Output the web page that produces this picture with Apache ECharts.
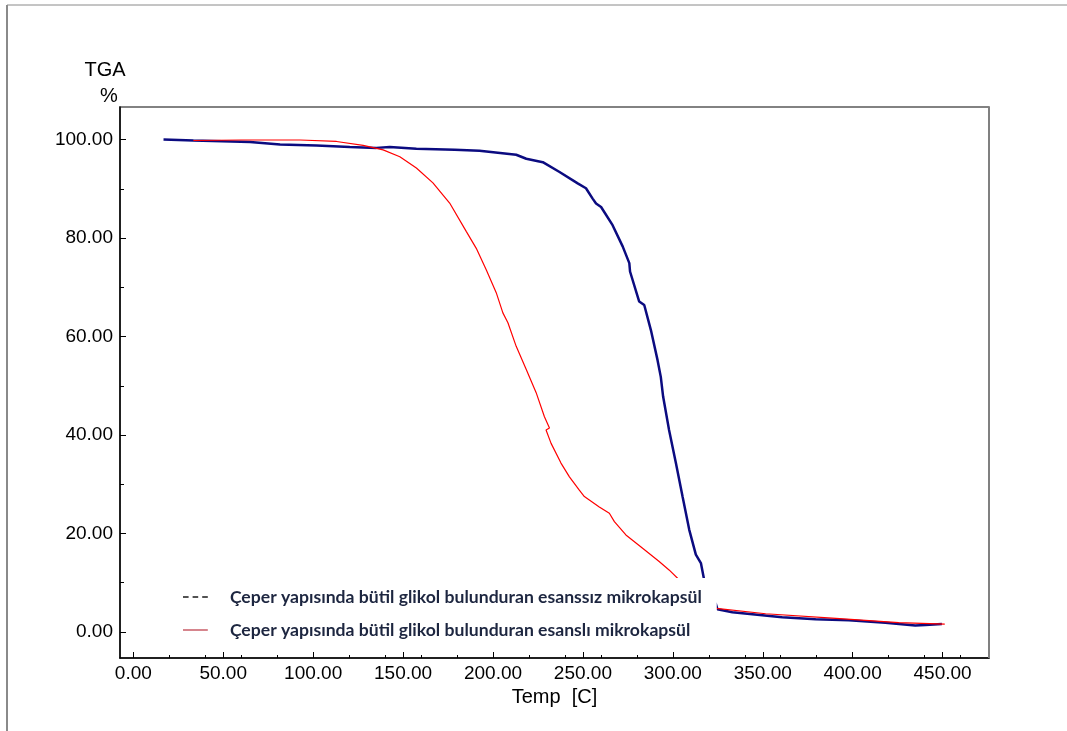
<!DOCTYPE html>
<html>
<head>
<meta charset="utf-8">
<script src="https://cdn.jsdelivr.net/npm/echarts@6/dist/echarts.min.js"></script>
<style>
  html, body { margin: 0; padding: 0; background: #fff; }
  #chart { width: 1067px; height: 731px; }
</style>
</head>
<body>
<div id="chart"></div>
<script>
// Series names (legend text)
const nameEsanssiz = 'Çeper yapısında bütil glikol bulunduran esanssız mikrokapsül';
const nameEsansli = 'Çeper yapısında bütil glikol bulunduran esanslı mikrokapsül';

// TGA curve without essence: temperature [C] and remaining mass [%]
const esanssizTemp = [16.8, 33.4, 64.9, 81.6, 101.9, 120.4, 135.2, 142.6, 157.4, 178.7, 192.5, 212.9, 218.5, 227.7,
  237.0, 247.1, 251.7, 255.4, 257.3, 260.1, 266.5, 272.1, 275.8, 276.2, 281.3, 284.1, 287.8, 291.5, 293.3, 294.6,
  297.9, 301.7, 305.4, 309.1, 312.8, 315.6, 317.4, 320.0, 322.5, 323.9, 324.8, 333.1, 360.8, 379.4, 397.9, 418.2,
  434.8, 440.4, 449.6];
const esanssizMass = [100.0, 99.8, 99.5, 99.0, 98.8, 98.5, 98.3, 98.5, 98.1, 97.9, 97.7, 96.9, 96.1, 95.4,
  93.4, 91.1, 90.1, 88.0, 87.0, 86.3, 82.6, 78.3, 74.9, 73.2, 67.1, 66.4, 61.3, 55.2, 51.8, 47.8,
  41.0, 34.3, 27.5, 20.8, 15.7, 14.0, 10.6, 8.0, 6.2, 5.7, 4.6, 4.0, 3.0, 2.6, 2.4, 1.9,
  1.3, 1.4, 1.6];

// TGA curve with essence
const esansliTemp = [33.4, 60.0, 92.7, 113.0, 127.8, 138.9, 148.2, 157.4, 166.6, 175.9, 185.2, 190.7, 196.3, 201.8,
  205.5, 208.3, 212.9, 218.5, 224.0, 228.6, 231.4, 229.5, 232.3, 237.8, 242.5, 248.0, 250.8, 259.1, 264.7, 267.5,
  273.9, 283.2, 292.4, 297.9, 303.5, 310.0, 317.0, 324.2, 351.6, 388.6, 425.6, 451.2];
const esansliMass = [99.8, 99.9, 99.9, 99.6, 98.8, 97.9, 96.5, 94.2, 91.2, 87.1, 81.3, 77.9, 73.5, 68.9,
  64.8, 62.8, 58.0, 53.3, 48.6, 43.7, 41.4, 41.0, 38.3, 34.3, 31.5, 28.8, 27.5, 25.4, 24.1, 22.4,
  19.7, 17.0, 14.3, 12.6, 10.6, 8.6, 6.5, 4.8, 3.7, 2.8, 1.9, 1.6];

// Tick positions
const xLabelTicks = [0, 50, 100, 150, 200, 250, 300, 350, 400, 450];
const xMinorTicks = [20, 40, 60, 80, 100, 120, 140, 160, 180, 200, 220, 240, 260, 280, 300, 320, 340, 360, 380, 400, 420, 440, 460];
const yLabelTicks = [0, 20, 40, 60, 80, 100];
const yMinorTicks = [10, 30, 50, 70, 90];

const zip = (xs, ys) => xs.map((x, i) => [x, ys[i]]);

const X_MIN = -7.4, X_MAX = 475.8;
const Y_MIN = -5.28, Y_MAX = 106.6;
const FONT = '"Liberation Sans", Arial, sans-serif';

// Legend keys: a dashed stroke and a plain stroke
const ICON_DASHED = 'path://M0,0h7v2h-7z M12,0h7v2h-7z M24,0h7v2h-7z';
const ICON_SOLID = 'path://M0,0h31v2h-31z';

const chart = echarts.init(document.getElementById('chart'), null, { renderer: 'canvas' });

chart.setOption({
  animation: false,
  backgroundColor: '#fff',
  grid: {
    left: 120, top: 107, right: 78, bottom: 73,
    show: true, borderColor: '#5a5a5a', borderWidth: 1.5, backgroundColor: 'transparent'
  },
  graphic: [
    { type: 'line', shape: { x1: 7, y1: 5, x2: 7, y2: 731 }, style: { stroke: '#8a8a8a', lineWidth: 2 } },
    { type: 'line', shape: { x1: 7, y1: 5, x2: 1067, y2: 5 }, style: { stroke: '#8a8a8a', lineWidth: 1 } },
    { type: 'line', shape: { x1: 989, y1: 107, x2: 989, y2: 658 }, style: { stroke: '#808080', lineWidth: 2 }, z: 10 }
  ],
  legend: {
    orient: 'vertical',
    left: 175, top: 578,
    padding: [8, 15, 8, 8],
    backgroundColor: '#fff',
    itemWidth: 31, itemHeight: 1.6, itemGap: 11,
    selectedMode: false,
    z: 20,
    textStyle: {
      fontFamily: 'Lato, "Open Sans", sans-serif', fontWeight: 'bold', fontSize: 17.6,
      color: '#1d2640', lineHeight: 22, padding: [0, 0, 0, 14]
    },
    data: [
      { name: nameEsanssiz, icon: ICON_DASHED, itemStyle: { color: '#1a1a1a' } },
      { name: nameEsansli, icon: ICON_SOLID, itemStyle: { color: '#cc6670' } }
    ]
  },
  xAxis: [
    {
      type: 'value', min: X_MIN, max: X_MAX,
      name: 'Temp  [C]', nameLocation: 'middle', nameGap: 26,
      nameTextStyle: { fontFamily: FONT, fontSize: 20, color: '#000' },
      axisLine: { show: true, onZero: false, lineStyle: { color: '#000', width: 1.5 } },
      axisTick: { show: true, inside: true, length: 6, customValues: xLabelTicks, lineStyle: { color: '#000' } },
      axisLabel: {
        customValues: xLabelTicks, margin: 6,
        fontFamily: FONT, fontSize: 19, color: '#000',
        formatter: v => v.toFixed(2)
      },
      splitLine: { show: false }
    },
    {
      type: 'value', min: X_MIN, max: X_MAX, position: 'bottom',
      axisLine: { show: false, onZero: false },
      axisTick: { show: true, inside: true, length: 3, customValues: xMinorTicks, lineStyle: { color: '#000' } },
      axisLabel: { show: false },
      splitLine: { show: false }
    }
  ],
  yAxis: [
    {
      type: 'value', min: Y_MIN, max: Y_MAX,
      name: '{t|TGA}\n{p|%}', nameLocation: 'end', nameGap: -2,
      nameTextStyle: {
        fontFamily: FONT, color: '#000', align: 'center', padding: [0, 30, 0, 0],
        rich: {
          t: { fontFamily: FONT, fontSize: 20, lineHeight: 26, color: '#000' },
          p: { fontFamily: FONT, fontSize: 20, lineHeight: 26, color: '#000', padding: [0, 0, 0, 8] }
        }
      },
      axisLine: { show: true, onZero: false, lineStyle: { color: '#000', width: 1.5 } },
      axisTick: { show: true, inside: true, length: 6, customValues: yLabelTicks, lineStyle: { color: '#000' } },
      axisLabel: {
        customValues: yLabelTicks, margin: 7,
        fontFamily: FONT, fontSize: 19, color: '#000',
        formatter: v => v.toFixed(2)
      },
      splitLine: { show: false }
    },
    {
      type: 'value', min: Y_MIN, max: Y_MAX, position: 'left',
      axisLine: { show: false, onZero: false },
      axisTick: { show: true, inside: true, length: 4, customValues: yMinorTicks, lineStyle: { color: '#000' } },
      axisLabel: { show: false },
      splitLine: { show: false }
    }
  ],
  series: [
    {
      name: nameEsanssiz, type: 'line', xAxisIndex: 0, yAxisIndex: 0,
      data: zip(esanssizTemp, esanssizMass),
      symbol: 'none', smooth: false,
      lineStyle: { color: '#0b0b80', width: 2.5 },
      itemStyle: { color: '#0b0b80' },
      z: 2
    },
    {
      name: nameEsansli, type: 'line', xAxisIndex: 0, yAxisIndex: 0,
      data: zip(esansliTemp, esansliMass),
      symbol: 'none', smooth: false,
      lineStyle: { color: '#ff0000', width: 1.2 },
      itemStyle: { color: '#ff0000' },
      z: 3
    }
  ]
});
</script>
</body>
</html>
